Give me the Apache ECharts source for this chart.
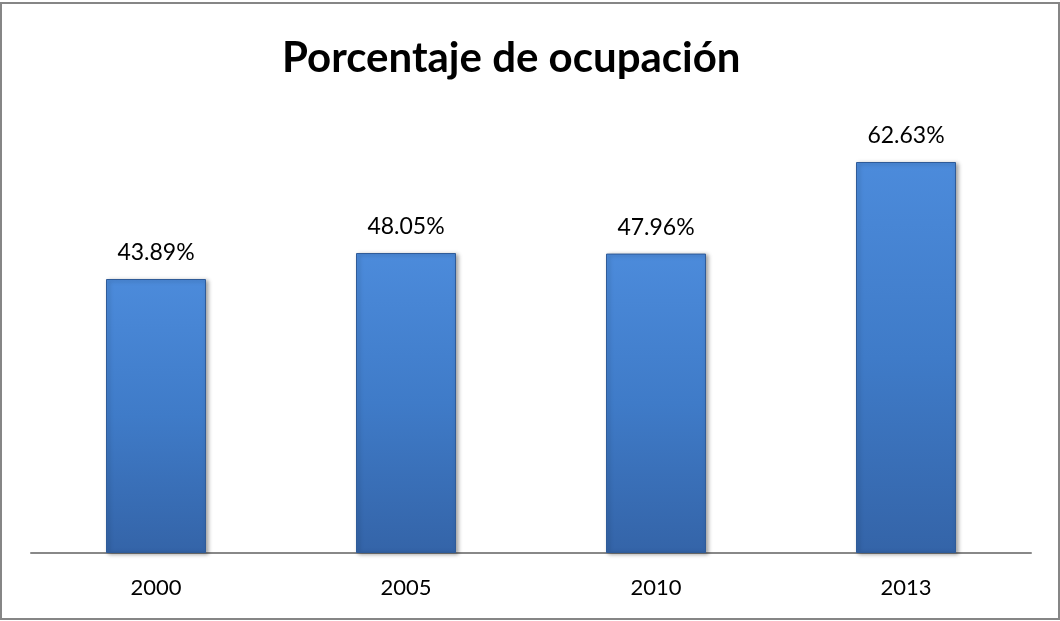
<!DOCTYPE html>
<html>
<head>
<meta charset="utf-8">
<script src="https://cdn.jsdelivr.net/npm/echarts@6/dist/echarts.min.js"></script>
<style>
html,body{margin:0;padding:0;background:#fff;}
#c{width:1060px;height:621px;}
</style>
</head>
<body>
<div id="c"></div>
<script>
const titleText = 'Porcentaje de ocupación';
const categories = ['2000', '2005', '2010', '2013'];
const values = [43.89, 48.05, 47.96, 62.63];

const chart = echarts.init(document.getElementById('c'));
chart.setOption({
  backgroundColor: '#ffffff',
  animation: false,
  title: {
    text: titleText,
    left: 277,
    top: 32,
    textStyle: {
      fontFamily: 'Lato',
      fontWeight: 'bold',
      fontSize: 42,
      color: '#000'
    }
  },
  graphic: [{
    type: 'rect',
    shape: { x: 1, y: 3, width: 1058, height: 616 },
    style: { fill: 'none', stroke: '#868686', lineWidth: 2 },
    z: 100
  }],
  grid: { left: 31, right: 29, top: 116, bottom: 68 },
  xAxis: {
    type: 'category',
    data: categories,
    axisLine: { show: true, lineStyle: { color: '#888888', width: 2 } },
    axisTick: { show: false },
    axisLabel: {
      margin: 24,
      fontFamily: 'Lato',
      fontSize: 22,
      color: '#000'
    }
  },
  yAxis: {
    type: 'value',
    min: 0,
    max: 70,
    interval: 10,
    show: false,
    splitLine: { show: false }
  },
  series: [{
    type: 'bar',
    data: values,
    barWidth: 100,
    itemStyle: {
      color: new echarts.graphic.LinearGradient(0, 0, 0, 1, [
        { offset: 0, color: '#4c8bdb' },
        { offset: 0.5, color: '#3f7bc8' },
        { offset: 1, color: '#3464a8' }
      ]),
      borderColor: '#2f5b98',
      borderWidth: 1,
      shadowBlur: 4,
      shadowColor: 'rgba(0,0,0,0.35)',
      shadowOffsetX: 2,
      shadowOffsetY: 1
    },
    label: {
      show: true,
      position: 'top',
      distance: 15,
      formatter: p => p.value.toFixed(2) + '%',
      fontFamily: 'Lato',
      fontSize: 23,
      color: '#000'
    }
  }]
});
</script>
</body>
</html>
